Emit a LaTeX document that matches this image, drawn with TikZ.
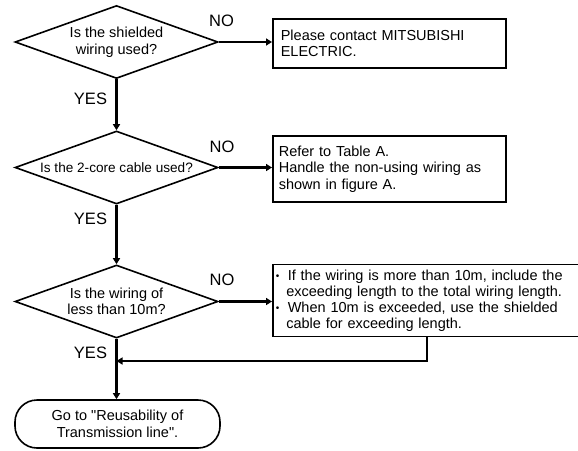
\documentclass[tikz,border=0pt]{standalone}
\usepackage{fontspec}
\setmainfont{Liberation Sans}
\newfontfamily\plainfont{Liberation Sans}
\usetikzlibrary{shapes.geometric,arrows.meta}
\newcommand{\bul}{\makebox[12pt][l]{\raisebox{0.5pt}{\fontsize{10}{10}\selectfont •}}}
\newcommand{\sq}{{\plainfont "}}
\begin{document}
\begin{tikzpicture}[x=1pt,y=-1pt,
  txt/.style={font=\fontsize{14.5}{16.5}\selectfont},
  dec/.style={diamond, draw, line width=1.6pt, aspect=2.74, inner sep=0pt,
    minimum width=203pt, minimum height=73pt, align=center, txt},
  box/.style={rectangle, draw, line width=1.6pt, anchor=west, align=left, txt},
  term/.style={rectangle, draw, line width=1.6pt, rounded corners=22pt,
    minimum width=205pt, minimum height=48pt, align=center, txt},
  lab/.style={font=\fontsize{16.5}{18}\selectfont},
  arr/.style={line width=2.6pt, -{Triangle[length=6pt,width=7pt]}},
  ln/.style={line width=2.6pt}]
\useasboundingbox (0,0) rectangle (578,450);
\node[dec] (d1) at (116.5,42) {Is the shielded\\wiring used?};
\node[dec, font=\fontsize{13.6}{16}\selectfont] (d2) at (116.5,167.5) {Is the 2-core cable used?};
\node[dec] (d3) at (116.5,301.5) {Is the wiring of\\less than 10m?};
\node[term] (t) at (117.5,424) {Go to \sq Reusability of\\Transmission line\sq.};
\node[box, minimum width=233pt, minimum height=49pt, inner xsep=8pt, text width=217pt] (b1) at (272,43.5)
  {Please contact MITSUBISHI\\ELECTRIC.};
\node[box, minimum width=233pt, minimum height=66pt, inner xsep=6pt, text width=221pt] (b2) at (272,169)
  {Refer to Table A.\\Handle the non-using wiring as\\shown in figure A.};
\node[box, minimum width=310pt, minimum height=72pt, inner xsep=3pt, text width=304pt, font=\fontsize{14.5}{16}\selectfont] (b3) at (272,300.5)
  {\bul If the wiring is more than 10m, include the\\
   \hspace*{10.5pt}exceeding length to the total wiring length.\\
   \bul When 10m is exceeded, use the shielded\\
   \hspace*{10.5pt}cable for exceeding length.};
\node[lab] (n1) at (221.5,21) {NO};
\node[lab] (n2) at (222,147) {NO};
\node[lab] (n3) at (222,280) {NO};
\node[lab] (y1) at (90.5,99) {YES};
\node[lab] (y2) at (90.5,219) {YES};
\node[lab] (y3) at (90.5,353) {YES};
\draw[arr] (d1.east) -- (d1.east -| b1.west);
\draw[arr] (d2.east) -- (d2.east -| b2.west);
\draw[arr] (d3.east) -- (d3.east -| b3.west);
\draw[arr] (d1.south) -- (d2.north);
\draw[arr] (d2.south) -- (d3.north);
\draw[arr] (d3.south) -- (d3.south |- t.north);
\coordinate (r) at (427,361);
\draw[arr] (b3.south -| r) -- (r) -- (r -| d3.south);
\end{tikzpicture}
\end{document}
